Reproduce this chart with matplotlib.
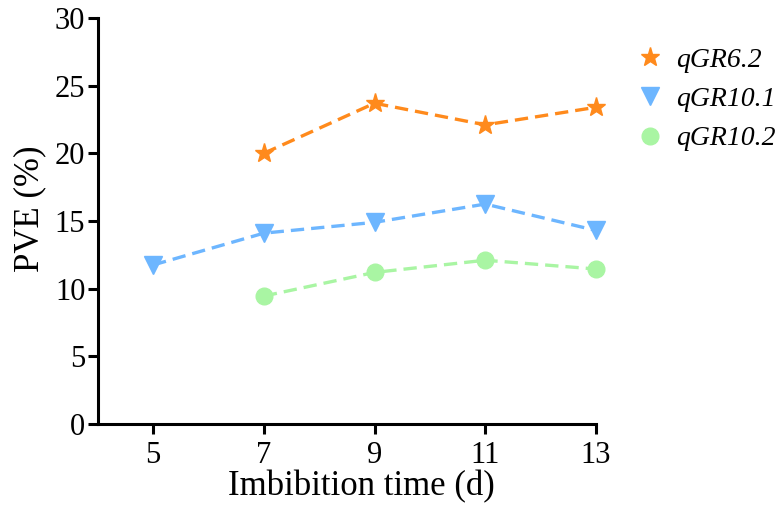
import matplotlib
matplotlib.use('Agg')
import matplotlib.pyplot as plt

days = [5, 7, 9, 11, 13]
qgr62_x = [7, 9, 11, 13]
qgr62 = [20.0, 23.7, 22.1, 23.4]
qgr101_x = [5, 7, 9, 11, 13]
qgr101 = [11.75, 14.1, 14.9, 16.25, 14.3]
qgr102_x = [7, 9, 11, 13]
qgr102 = [9.45, 11.2, 12.1, 11.45]

plt.rcParams['font.family'] = ['Liberation Serif', 'DejaVu Serif']

fig = plt.figure(figsize=(7.76, 5.13), dpi=100)
ax = fig.add_axes([0.126, 0.1735, 0.642, 0.7915])

ax.plot(qgr62_x, qgr62, '--', color='#FF8A1C', marker='*', markersize=14,
        linewidth=2.4, dashes=(4, 2.1), label='qGR6.2', clip_on=False)
ax.plot(qgr101_x, qgr101, '--', color='#6DB6FF', marker='v', markersize=13,
        linewidth=2.4, dashes=(4, 2.1), label='qGR10.1', clip_on=False)
ax.plot(qgr102_x, qgr102, '--', color='#A9F5A3', marker='o', markersize=12,
        linewidth=2.4, dashes=(4, 2.1), label='qGR10.2', clip_on=False)

ax.set_xlim(4, 13)
ax.set_ylim(0, 30)
ax.set_xticks(days)
ax.set_yticks(range(0, 31, 5))
for s in ['top', 'right']:
    ax.spines[s].set_visible(False)
for s in ['left', 'bottom']:
    ax.spines[s].set_linewidth(2.2)
ax.tick_params(width=2.2, length=7, labelsize=22)
ax.tick_params(axis='y', pad=2)
ax.tick_params(axis='x', pad=5)
ax.set_xlabel('Imbibition time (d)', fontsize=25, labelpad=0)
ax.set_ylabel('PVE (%)', fontsize=25, labelpad=6)
ax.xaxis.label.set_x(0.53)
ax.yaxis.label.set_y(0.53)

leg = ax.legend(loc='upper left', bbox_to_anchor=(1.086, 0.928), frameon=False,
                prop={'style': 'italic', 'size': 20}, handlelength=0.8,
                handletextpad=0.55, labelspacing=0.5, borderpad=0,
                borderaxespad=0)
for h in leg.get_lines():
    h.set_linestyle('none')

fig.savefig('out.png', dpi=100)
